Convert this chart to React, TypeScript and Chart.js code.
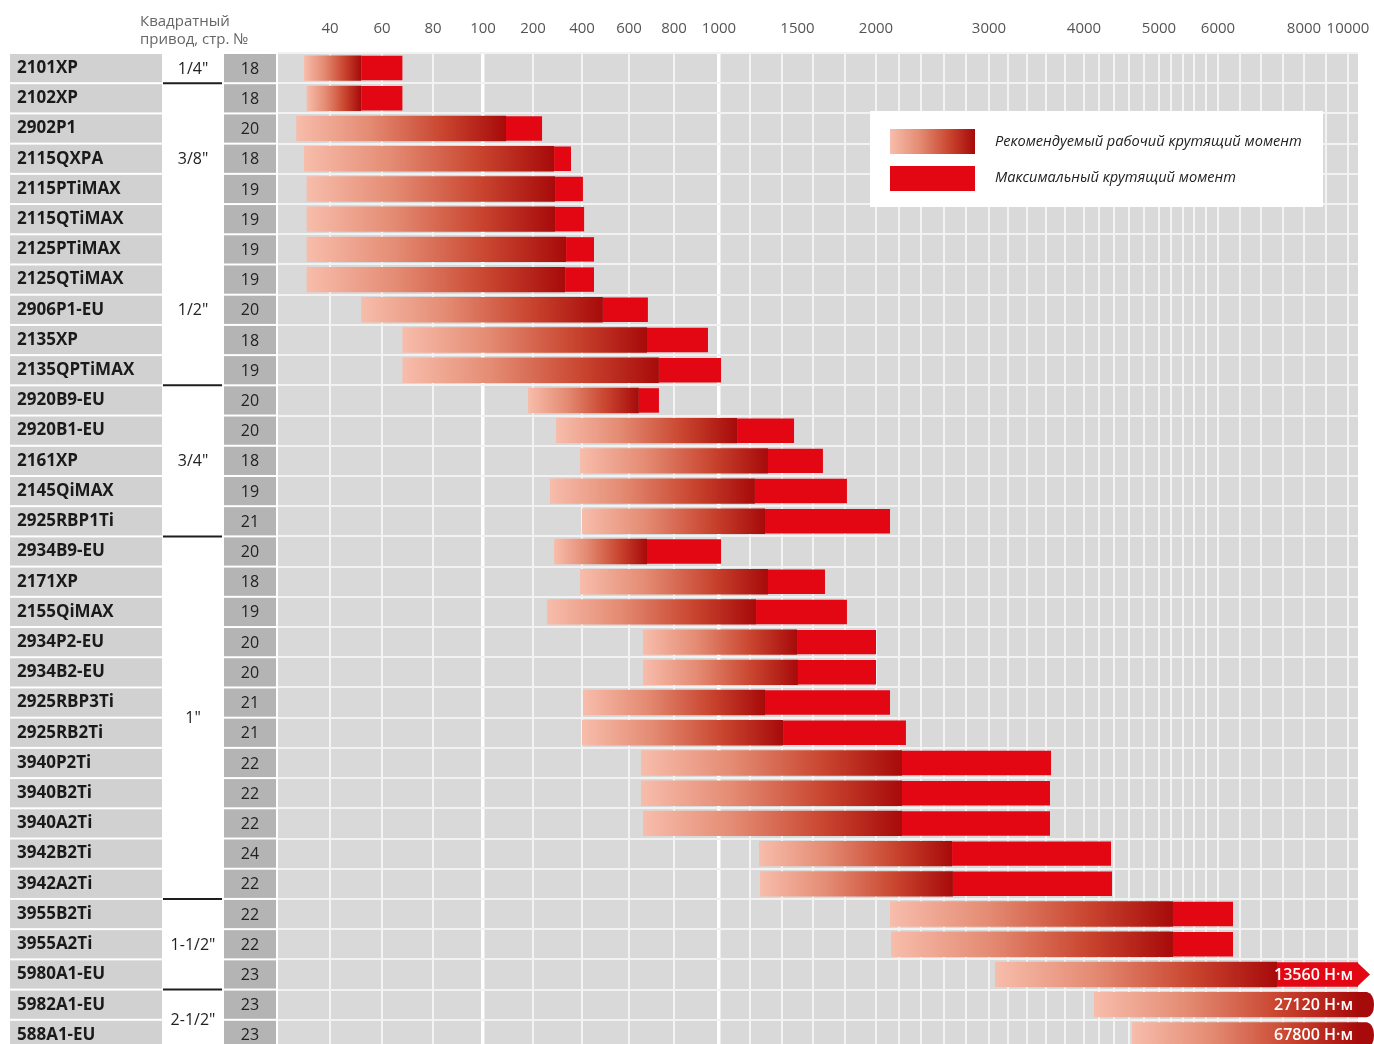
import { useEffect, useRef } from 'react';
import { Chart, registerables } from 'chart.js';

Chart.register(...registerables);

// ---------- data ----------
const MODELS = [
  '2101XP', '2102XP', '2902P1', '2115QXPA', '2115PTiMAX', '2115QTiMAX', '2125PTiMAX', '2125QTiMAX',
  '2906P1-EU', '2135XP', '2135QPTiMAX', '2920B9-EU', '2920B1-EU', '2161XP', '2145QiMAX', '2925RBP1Ti',
  '2934B9-EU', '2171XP', '2155QiMAX', '2934P2-EU', '2934B2-EU', '2925RBP3Ti', '2925RB2Ti', '3940P2Ti',
  '3940B2Ti', '3940A2Ti', '3942B2Ti', '3942A2Ti', '3955B2Ti', '3955A2Ti', '5980A1-EU', '5982A1-EU', '588A1-EU',
];
const PAGES = [
  18, 18, 20, 18, 19, 19, 19, 19, 20, 18, 19, 20, 20, 18, 19, 21, 20, 18, 19, 20, 20, 21, 21, 22, 22, 22, 24, 22,
  22, 22, 23, 23, 23,
];
const DRIVE_SIZES = ['1/4"', '3/8"', '1/2"', '3/4"', '1"', '1-1/2"', '2-1/2"'];
const DRIVE_LABEL_ROWS = [0, 3, 8, 13, 21.5, 29, 31.5];
const DRIVE_BREAK_AFTER = [0, 10, 15, 27, 30];

// torque, N·m
const MIN_TORQUE = [
  30, 31, 27, 30, 31, 31, 31, 31, 52, 68, 68, 190, 294, 392, 269, 400, 286, 392, 257, 662, 662, 404, 400, 653,
  653, 662, 1255, 1261, 2124, 2133, 3063, 4133, 4640,
];
const REC_TORQUE = [
  52, 52, 146, 286, 290, 290, 335, 331, 489, 680, 733, 644, 1115, 1312, 1229, 1293, 680, 1312, 1236, 1497, 1503,
  1293, 1408, 2230, 2230, 2230, 2673, 2681, 5237, 5237, 7372, 27120, 67800,
];
const MAX_TORQUE = [
  68, 68, 237, 355, 404, 409, 451, 451, 684, 951, 1013, 733, 1478, 1662, 1815, 2124, 1013, 1675, 1815, 2000, 2000,
  2124, 2265, 3653, 3642, 3642, 4360, 4373, 6349, 6349, 13560, 27120, 67800,
];

// ---------- non-uniform axis definition ----------
const AXIS_VALUES = [20, 40, 60, 80, 100, 200, 400, 600, 800, 1000, 2000, 3000, 4000, 5000, 6000, 8000, 10000];
const AXIS_UNITS = [0, 52, 104, 155, 205, 255, 304, 351, 396, 441, 598, 711, 806, 881, 940, 1026, 1070];
const AXIS_END = 1080;
const TICK_LABELS = [40, 60, 80, 100, 200, 400, 600, 800, 1000, 1500, 2000, 3000, 4000, 5000, 6000, 8000, 10000];
const GRID_VALUES = [
  40, 60, 80, 100, 200, 400, 600, 800, 1000, 1200, 1400, 1600, 1800, 2000, 2200, 2400, 2600, 2800, 3000, 3200,
  3400, 3600, 3800, 4000, 4200, 4400, 4600, 4800, 5000, 5200, 5400, 5600, 5800, 6000, 6500, 7000, 7500, 8000,
  9000, 10000,
];
const MAJOR_GRID = [100, 1000];

const LEGEND_LABELS = ['Рекомендуемый рабочий крутящий момент', 'Максимальный крутящий момент'];
const HEADER = ['Квадратный', 'привод, стр. №'];
const UNIT = 'Н·м';

function toUnit(v: number): number {
  const lastV = AXIS_VALUES[AXIS_VALUES.length - 1];
  if (v > lastV) return AXIS_END;
  for (let i = 0; i < AXIS_VALUES.length - 1; i++) {
    const a = AXIS_VALUES[i];
    const b = AXIS_VALUES[i + 1];
    if (v >= a && v <= b) {
      return AXIS_UNITS[i] + ((v - a) / (b - a)) * (AXIS_UNITS[i + 1] - AXIS_UNITS[i]);
    }
  }
  return AXIS_UNITS[0];
}

const TICKS = Array.from(new Set([...GRID_VALUES, ...TICK_LABELS]))
  .sort((a, b) => a - b)
  .map((v) => ({
    v,
    label: TICK_LABELS.includes(v) ? String(v) : '',
    grid: GRID_VALUES.includes(v),
    major: MAJOR_GRID.includes(v),
  }));

const FONT = '"Open Sans", "Noto Sans", sans-serif';
const RED = '#e30613';
const GRAD_STOPS: [number, string][] = [
  [0, '#f7bdab'],
  [0.35, '#e48b73'],
  [0.7, '#c9452f'],
  [1, '#a70a0a'],
];

function makeGradient(ctx: CanvasRenderingContext2D, x0: number, x1: number) {
  const g = ctx.createLinearGradient(x0, 0, x1, 0);
  GRAD_STOPS.forEach(([s, c]) => g.addColorStop(s, c));
  return g;
}

const tablePlugin = {
  id: 'tablePlugin',
  beforeDraw(chart: any) {
    const { ctx, chartArea, scales } = chart;
    const y = scales.y;
    const step = y.getPixelForValue(1) - y.getPixelForValue(0);
    const half = step / 2;
    ctx.save();
    ctx.fillStyle = '#d9d9d9';
    ctx.fillRect(chartArea.left, chartArea.top, chartArea.right - chartArea.left, chartArea.bottom - chartArea.top);
    MODELS.forEach((_, i) => {
      const c = y.getPixelForValue(i);
      const top = c - half + 1;
      const h = step - 2;
      ctx.fillStyle = '#d1d1d1';
      ctx.fillRect(10, top, 152, h);
      ctx.fillStyle = '#b4b4b4';
      ctx.fillRect(224, top, 52, h);
      ctx.fillStyle = '#222';
      ctx.font = `16px ${FONT}`;
      ctx.textAlign = 'center';
      ctx.textBaseline = 'middle';
      ctx.fillText(String(PAGES[i]), 250, c + 1);
    });
    const y0 = y.getPixelForValue(0);
    DRIVE_SIZES.forEach((s, k) => {
      ctx.fillStyle = '#222';
      ctx.font = `16px ${FONT}`;
      ctx.textAlign = 'center';
      ctx.textBaseline = 'middle';
      ctx.fillText(s, 193, y0 + DRIVE_LABEL_ROWS[k] * step + 1);
    });
    ctx.strokeStyle = '#1e1e1e';
    ctx.lineWidth = 2;
    DRIVE_BREAK_AFTER.forEach((r) => {
      const yy = y.getPixelForValue(r) + half;
      ctx.beginPath();
      ctx.moveTo(163, yy);
      ctx.lineTo(222, yy);
      ctx.stroke();
    });
    ctx.fillStyle = '#666';
    ctx.font = `15px ${FONT}`;
    ctx.textAlign = 'left';
    ctx.textBaseline = 'middle';
    ctx.fillText(HEADER[0], 140, 22);
    ctx.fillText(HEADER[1], 140, 40);
    ctx.restore();
  },
  afterDatasetsDraw(chart: any) {
    const { ctx, chartArea } = chart;
    const recMeta = chart.getDatasetMeta(0);
    const maxMeta = chart.getDatasetMeta(1);
    const lastV = AXIS_VALUES[AXIS_VALUES.length - 1];
    ctx.save();
    MODELS.forEach((_, i) => {
      if (MAX_TORQUE[i] <= lastV) return;
      const el = recMeta.data[i];
      const top = el.y - el.height / 2;
      const bot = el.y + el.height / 2;
      const xr = chartArea.right;
      if (REC_TORQUE[i] <= lastV) {
        const mel = maxMeta.data[i];
        const mt = mel.y - mel.height / 2;
        const mb = mel.y + mel.height / 2;
        ctx.fillStyle = RED;
        ctx.beginPath();
        ctx.moveTo(xr - 1, mt);
        ctx.lineTo(xr + 12, mel.y);
        ctx.lineTo(xr - 1, mb);
        ctx.closePath();
        ctx.fill();
      } else {
        ctx.fillStyle = GRAD_STOPS[GRAD_STOPS.length - 1][1];
        ctx.beginPath();
        ctx.moveTo(xr - 1, top);
        ctx.lineTo(xr + 9, top);
        ctx.quadraticCurveTo(xr + 16, top + 2, xr + 16, el.y);
        ctx.quadraticCurveTo(xr + 16, bot - 2, xr + 9, bot);
        ctx.lineTo(xr - 1, bot);
        ctx.closePath();
        ctx.fill();
      }
      ctx.fillStyle = '#ffffff';
      ctx.font = `600 16px ${FONT}`;
      ctx.textAlign = 'right';
      ctx.textBaseline = 'middle';
      ctx.fillText(`${MAX_TORQUE[i]} ${UNIT}`, xr - 5, el.y + 1);
    });
    ctx.fillStyle = '#ffffff';
    ctx.fillRect(870, 111, 453, 96);
    ctx.fillStyle = makeGradient(ctx, 890, 975);
    ctx.fillRect(890, 129, 85, 25);
    ctx.fillStyle = RED;
    ctx.fillRect(890, 166, 85, 25);
    ctx.fillStyle = '#222';
    ctx.font = `italic 14.6px ${FONT}`;
    ctx.textAlign = 'left';
    ctx.textBaseline = 'middle';
    ctx.fillText(LEGEND_LABELS[0], 995, 142);
    ctx.fillText(LEGEND_LABELS[1], 995, 178);
    ctx.restore();
  },
};

export default function App() {
  const ref = useRef<HTMLCanvasElement>(null);
  useEffect(() => {
    if (!ref.current) return;
    Chart.defaults.font.family = FONT;
    const chart = new Chart(ref.current, {
      type: 'bar',
      data: {
        labels: MODELS,
        datasets: [
          {
            label: LEGEND_LABELS[0],
            data: MODELS.map((_, i) => [toUnit(MIN_TORQUE[i]), toUnit(REC_TORQUE[i])]) as any,
            backgroundColor: (c: any) => {
              const chart = c.chart;
              const raw = c.raw;
              if (!chart.chartArea || !Array.isArray(raw)) return '#d9674f';
              const xs = chart.scales.x;
              return makeGradient(chart.ctx, xs.getPixelForValue(raw[0]), xs.getPixelForValue(raw[1]));
            },
            borderWidth: 0,
            barPercentage: 0.84,
            categoryPercentage: 1,
          },
          {
            label: LEGEND_LABELS[1],
            data: MODELS.map((_, i) => [toUnit(REC_TORQUE[i]), toUnit(MAX_TORQUE[i])]) as any,
            backgroundColor: RED,
            borderWidth: 0,
            barPercentage: 0.81,
            categoryPercentage: 1,
          },
        ],
      },
      options: {
        animation: false,
        responsive: false,
        indexAxis: 'y',
        layout: { padding: { left: 17, right: 16, top: 1, bottom: 10 } },
        plugins: { legend: { display: false }, tooltip: { enabled: false } },
        scales: {
          x: {
            type: 'linear',
            position: 'top',
            min: 0,
            max: AXIS_END,
            afterFit: (s: any) => {
              s.height = 52;
              s.paddingLeft = 0;
              s.paddingRight = 0;
            },
            afterBuildTicks: (s: any) => {
              s.ticks = TICKS.map((t) => ({ value: toUnit(t.v) }));
            },
            ticks: {
              autoSkip: false,
              maxRotation: 0,
              minRotation: 0,
              padding: 15,
              color: '#555',
              font: { size: 15 },
              callback: (_v: any, idx: number) => (TICKS[idx] ? TICKS[idx].label : ''),
            },
            grid: {
              drawTicks: false,
              color: (c: any) => {
                const t = TICKS[c.index];
                if (!t || !t.grid) return 'rgba(0,0,0,0)';
                return t.major ? '#ffffff' : '#f3f3f3';
              },
              lineWidth: (c: any) => {
                const t = TICKS[c.index];
                return t && t.major ? 3.5 : 2;
              },
            },
            border: { display: false },
          },
          y: {
            type: 'category',
            stacked: true,
            afterFit: (s: any) => {
              s.width = 261;
              s.paddingTop = 0;
              s.paddingBottom = 0;
            },
            ticks: {
              crossAlign: 'far',
              padding: 0,
              color: '#1a1a1a',
              font: { size: 17, weight: 'bold' },
            },
            grid: { offset: true, drawTicks: false, color: '#f2f2f2', lineWidth: 2 },
            border: { display: false },
          },
        },
      } as any,
      plugins: [tablePlugin],
    });
    return () => chart.destroy();
  }, []);
  return (
    <div
      style={{
        position: 'fixed',
        left: 0,
        top: 0,
        width: 1374,
        height: 1044,
        overflow: 'hidden',
        background: '#ffffff',
      }}
    >
      <canvas ref={ref} width={1374} height={1060} style={{ display: 'block' }} />
    </div>
  );
}
